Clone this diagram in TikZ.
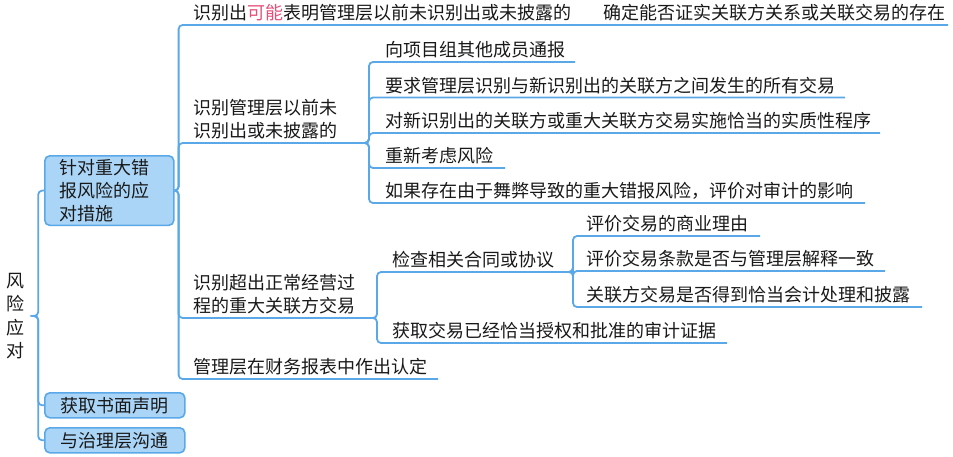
\documentclass[tikz,border=0pt]{standalone}
\usepackage{fontspec}
\newfontfamily\cjk{Noto Sans CJK SC}
\definecolor{lc}{RGB}{91,168,232}
\definecolor{bf}{RGB}{170,213,247}
\definecolor{hl}{RGB}{229,80,122}
\definecolor{tx}{RGB}{25,25,25}
\begin{document}
\begin{tikzpicture}[x=1pt,y=-1pt,
  every node/.style={font=\cjk\fontsize{18}{23}\selectfont, text=tx},
  conn/.style={draw=lc, line width=1.8pt, rounded corners=4pt},
  leaf/.style={anchor=south west, inner xsep=0pt, inner ysep=3.5pt, align=left},
  box/.style={draw=lc, fill=bf, line width=1.6pt, rounded corners=5pt},
]
\useasboundingbox (0,0) rectangle (953,456);

% root
\node[inner sep=0pt, align=center, font=\cjk\fontsize{18}{23.5}\selectfont] (root) at (15,316) {风\\险\\应\\对};

% first level boxes
\node[box, text width=100pt, inner xsep=14.5pt, inner ysep=3.5pt, align=left, anchor=north west] (b1) at (44,155) {针对重大错\\报风险的应\\对措施};
\node[box, minimum width=140pt, minimum height=25pt, inner sep=1pt, anchor=north west] (b2) at (44,392) {获取书面声明};
\node[box, minimum width=140pt, minimum height=25pt, inner sep=1pt, anchor=north west] (b3) at (44,427) {与治理层沟通};

% second level
\node[leaf] (A) at (193,25) {识别出\textcolor{hl}{可能}表明管理层以前未识别出或未披露的};
\node[leaf] (A1) at (603,25) {确定能否证实关联方关系或关联交易的存在};
\coordinate (A1e) at (948,25);

\node[leaf] (B) at (193,143) {识别管理层以前未\\识别出或未披露的};
\coordinate (Be) at (365,143);
\node[leaf] (B1) at (385,62) {向项目组其他成员通报};
\coordinate (B1e) at (575,62);
\node[leaf] (B2) at (385,97.5) {要求管理层识别与新识别出的关联方之间发生的所有交易};
\coordinate (B2e) at (845,97.5);
\node[leaf] (B3) at (385,133) {对新识别出的关联方或重大关联方交易实施恰当的实质性程序};
\coordinate (B3e) at (880,133);
\node[leaf] (B4) at (385,168) {重新考虑风险};
\coordinate (B4e) at (505,168);
\node[leaf] (B5) at (385,203) {如果存在由于舞弊导致的重大错报风险，评价对审计的影响};
\coordinate (B5e) at (865,203);

\node[leaf] (C) at (193,318) {识别超出正常经营过\\程的重大关联方交易};
\coordinate (Ce) at (373,318);
\node[leaf] (C1) at (392,272) {检查相关合同或协议};
\coordinate (C1e) at (569,272);
\node[leaf] (C1a) at (586,236) {评价交易的商业理由};
\coordinate (C1ae) at (760,236);
\node[leaf] (C1b) at (586,271) {评价交易条款是否与管理层解释一致};
\coordinate (C1be) at (885,271);
\node[leaf] (C1c) at (586,307) {关联方交易是否得到恰当会计处理和披露};
\coordinate (C1ce) at (922,307);
\node[leaf] (C2) at (392,343) {获取交易已经恰当授权和批准的审计证据};
\coordinate (C2e) at (727,343);

\node[leaf] (D) at (193,379) {管理层在财务报表中作出认定};
\coordinate (De) at (438,379);

% connectors: root
\draw[conn] ([xshift=11pt]root.east) -- ++(3,0) |- (b1.west);
\draw[conn] ([xshift=11pt]root.east) -- ++(3,0) |- (b2.west);
\draw[conn] ([xshift=11pt]root.east) -- ++(3,0) |- (b3.west);

% box1 children
\draw[conn] (b1.east) -- ++(4,0) |- (A.south west) -- (A1.south west) -- (A1e);
\draw[conn] (b1.east) -- ++(4,0) |- (B.south west) -- (Be);
\draw[conn] (b1.east) -- ++(4,0) |- (C.south west) -- (Ce);
\draw[conn] (b1.east) -- ++(4,0) |- (D.south west) -- (De);

% B children
\foreach \n in {B1,B2,B3,B4,B5}
  \draw[conn] (Be) -- ++(4,0) |- (\n.south west) -- (\n e);

% C children
\draw[conn] (Ce) -- ++(4,0) |- (C1.south west) -- (C1e);
\draw[conn] (Ce) -- ++(4,0) |- (C2.south west) -- (C2e);

% C1 children
\foreach \n in {C1a,C1b,C1c}
  \draw[conn] (C1e) -- ++(4,0) |- (\n.south west) -- (\n e);
\end{tikzpicture}
\end{document}
